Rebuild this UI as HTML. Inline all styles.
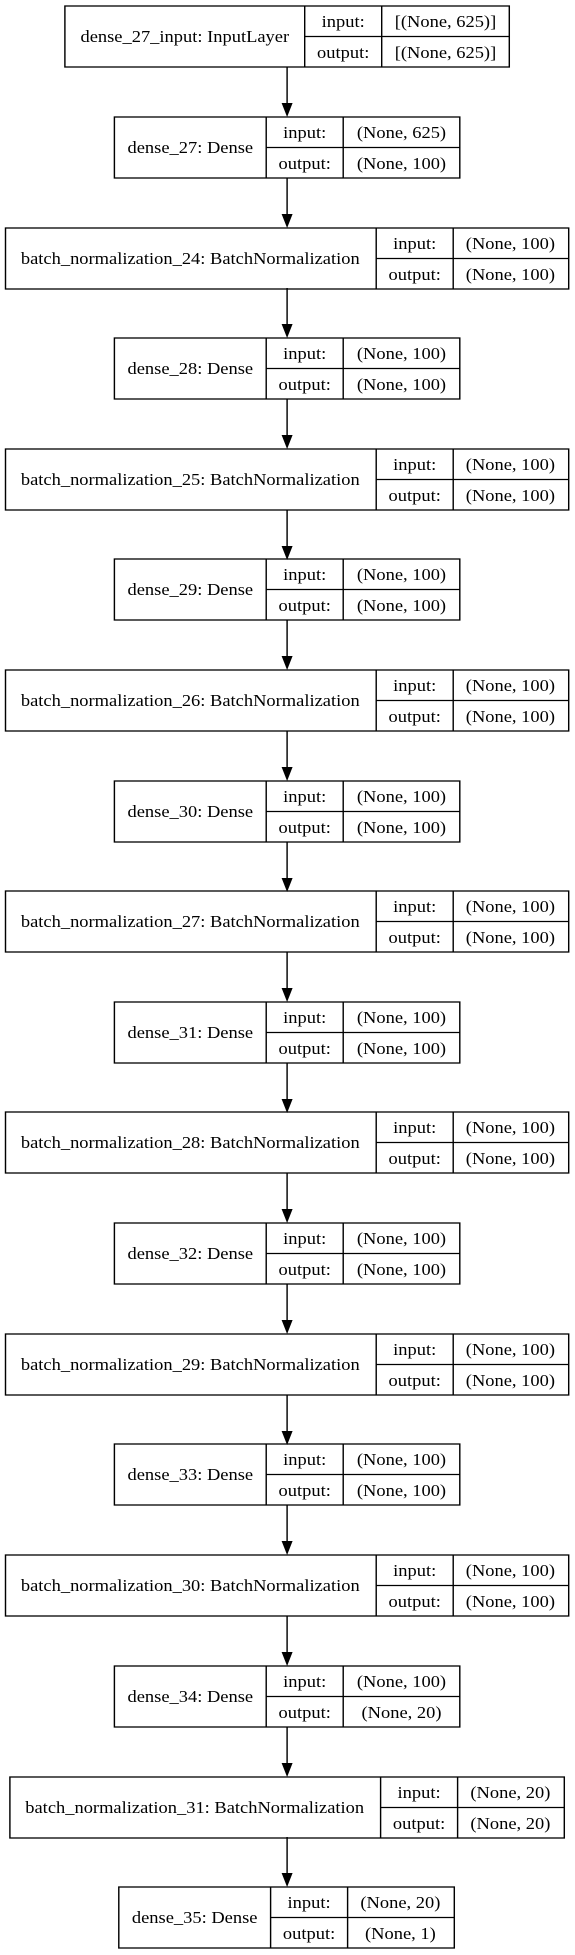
<!DOCTYPE html>
<html><head><meta charset="utf-8"><style>
html,body{margin:0;padding:0;background:#fff}
svg{display:block}
text{font-family:"Liberation Serif",serif;font-size:16.8px;fill:#000}
rect,line.b{fill:none;stroke:#000;stroke-width:1.3}
</style></head><body>
<svg width="575" height="1955" viewBox="0 0 575 1955" xmlns="http://www.w3.org/2000/svg">
<defs>
<g id="ar"><line x1="261" y1="0" x2="261" y2="36" stroke="#000" stroke-width="1.3"/><polygon points="256,36 266,36 261,50" fill="#000"/></g>
</defs>
<g transform="scale(1.1,1)">
<use href="#ar" x="0" y="67"/>
<use href="#ar" x="0" y="178"/>
<use href="#ar" x="0" y="288"/>
<use href="#ar" x="0" y="399"/>
<use href="#ar" x="0" y="510"/>
<use href="#ar" x="0" y="620"/>
<use href="#ar" x="0" y="731"/>
<use href="#ar" x="0" y="842"/>
<use href="#ar" x="0" y="952"/>
<use href="#ar" x="0" y="1063"/>
<use href="#ar" x="0" y="1173"/>
<use href="#ar" x="0" y="1284"/>
<use href="#ar" x="0" y="1395"/>
<use href="#ar" x="0" y="1505"/>
<use href="#ar" x="0" y="1616"/>
<use href="#ar" x="0" y="1727"/>
<use href="#ar" x="0" y="1837"/>

<g transform="translate(0,6)">
<rect x="59" y="0" width="404" height="61"/><line class="b" x1="277" y1="0" x2="277" y2="61"/><line class="b" x1="347" y1="0" x2="347" y2="61"/><line class="b" x1="277" y1="30.5" x2="463" y2="30.5"/>
<text x="168" y="36" text-anchor="middle">dense_27_input: InputLayer</text>
<text x="312" y="21" text-anchor="middle">input:</text><text x="312" y="52" text-anchor="middle">output:</text>
<text x="405" y="21" text-anchor="middle">[(None, 625)]</text><text x="405" y="52" text-anchor="middle">[(None, 625)]</text>
</g>

<g transform="translate(0,117)">
<rect x="104" y="0" width="314" height="61"/><line class="b" x1="242" y1="0" x2="242" y2="61"/><line class="b" x1="312" y1="0" x2="312" y2="61"/><line class="b" x1="242" y1="30.5" x2="418" y2="30.5"/>
<text x="173" y="36" text-anchor="middle">dense_27: Dense</text>
<text x="277" y="21" text-anchor="middle">input:</text><text x="277" y="52" text-anchor="middle">output:</text>
<text x="365" y="21" text-anchor="middle">(None, 625)</text><text x="365" y="52" text-anchor="middle">(None, 100)</text>
</g>

<g transform="translate(0,228)">
<rect x="5" y="0" width="512" height="61"/><line class="b" x1="342" y1="0" x2="342" y2="61"/><line class="b" x1="412" y1="0" x2="412" y2="61"/><line class="b" x1="342" y1="30.5" x2="517" y2="30.5"/>
<text x="173" y="36" text-anchor="middle">batch_normalization_24: BatchNormalization</text>
<text x="377" y="21" text-anchor="middle">input:</text><text x="377" y="52" text-anchor="middle">output:</text>
<text x="464" y="21" text-anchor="middle">(None, 100)</text><text x="464" y="52" text-anchor="middle">(None, 100)</text>
</g>

<g transform="translate(0,338)">
<rect x="104" y="0" width="314" height="61"/><line class="b" x1="242" y1="0" x2="242" y2="61"/><line class="b" x1="312" y1="0" x2="312" y2="61"/><line class="b" x1="242" y1="30.5" x2="418" y2="30.5"/>
<text x="173" y="36" text-anchor="middle">dense_28: Dense</text>
<text x="277" y="21" text-anchor="middle">input:</text><text x="277" y="52" text-anchor="middle">output:</text>
<text x="365" y="21" text-anchor="middle">(None, 100)</text><text x="365" y="52" text-anchor="middle">(None, 100)</text>
</g>

<g transform="translate(0,449)">
<rect x="5" y="0" width="512" height="61"/><line class="b" x1="342" y1="0" x2="342" y2="61"/><line class="b" x1="412" y1="0" x2="412" y2="61"/><line class="b" x1="342" y1="30.5" x2="517" y2="30.5"/>
<text x="173" y="36" text-anchor="middle">batch_normalization_25: BatchNormalization</text>
<text x="377" y="21" text-anchor="middle">input:</text><text x="377" y="52" text-anchor="middle">output:</text>
<text x="464" y="21" text-anchor="middle">(None, 100)</text><text x="464" y="52" text-anchor="middle">(None, 100)</text>
</g>

<g transform="translate(0,559)">
<rect x="104" y="0" width="314" height="61"/><line class="b" x1="242" y1="0" x2="242" y2="61"/><line class="b" x1="312" y1="0" x2="312" y2="61"/><line class="b" x1="242" y1="30.5" x2="418" y2="30.5"/>
<text x="173" y="36" text-anchor="middle">dense_29: Dense</text>
<text x="277" y="21" text-anchor="middle">input:</text><text x="277" y="52" text-anchor="middle">output:</text>
<text x="365" y="21" text-anchor="middle">(None, 100)</text><text x="365" y="52" text-anchor="middle">(None, 100)</text>
</g>

<g transform="translate(0,670)">
<rect x="5" y="0" width="512" height="61"/><line class="b" x1="342" y1="0" x2="342" y2="61"/><line class="b" x1="412" y1="0" x2="412" y2="61"/><line class="b" x1="342" y1="30.5" x2="517" y2="30.5"/>
<text x="173" y="36" text-anchor="middle">batch_normalization_26: BatchNormalization</text>
<text x="377" y="21" text-anchor="middle">input:</text><text x="377" y="52" text-anchor="middle">output:</text>
<text x="464" y="21" text-anchor="middle">(None, 100)</text><text x="464" y="52" text-anchor="middle">(None, 100)</text>
</g>

<g transform="translate(0,781)">
<rect x="104" y="0" width="314" height="61"/><line class="b" x1="242" y1="0" x2="242" y2="61"/><line class="b" x1="312" y1="0" x2="312" y2="61"/><line class="b" x1="242" y1="30.5" x2="418" y2="30.5"/>
<text x="173" y="36" text-anchor="middle">dense_30: Dense</text>
<text x="277" y="21" text-anchor="middle">input:</text><text x="277" y="52" text-anchor="middle">output:</text>
<text x="365" y="21" text-anchor="middle">(None, 100)</text><text x="365" y="52" text-anchor="middle">(None, 100)</text>
</g>

<g transform="translate(0,891)">
<rect x="5" y="0" width="512" height="61"/><line class="b" x1="342" y1="0" x2="342" y2="61"/><line class="b" x1="412" y1="0" x2="412" y2="61"/><line class="b" x1="342" y1="30.5" x2="517" y2="30.5"/>
<text x="173" y="36" text-anchor="middle">batch_normalization_27: BatchNormalization</text>
<text x="377" y="21" text-anchor="middle">input:</text><text x="377" y="52" text-anchor="middle">output:</text>
<text x="464" y="21" text-anchor="middle">(None, 100)</text><text x="464" y="52" text-anchor="middle">(None, 100)</text>
</g>

<g transform="translate(0,1002)">
<rect x="104" y="0" width="314" height="61"/><line class="b" x1="242" y1="0" x2="242" y2="61"/><line class="b" x1="312" y1="0" x2="312" y2="61"/><line class="b" x1="242" y1="30.5" x2="418" y2="30.5"/>
<text x="173" y="36" text-anchor="middle">dense_31: Dense</text>
<text x="277" y="21" text-anchor="middle">input:</text><text x="277" y="52" text-anchor="middle">output:</text>
<text x="365" y="21" text-anchor="middle">(None, 100)</text><text x="365" y="52" text-anchor="middle">(None, 100)</text>
</g>

<g transform="translate(0,1112)">
<rect x="5" y="0" width="512" height="61"/><line class="b" x1="342" y1="0" x2="342" y2="61"/><line class="b" x1="412" y1="0" x2="412" y2="61"/><line class="b" x1="342" y1="30.5" x2="517" y2="30.5"/>
<text x="173" y="36" text-anchor="middle">batch_normalization_28: BatchNormalization</text>
<text x="377" y="21" text-anchor="middle">input:</text><text x="377" y="52" text-anchor="middle">output:</text>
<text x="464" y="21" text-anchor="middle">(None, 100)</text><text x="464" y="52" text-anchor="middle">(None, 100)</text>
</g>

<g transform="translate(0,1223)">
<rect x="104" y="0" width="314" height="61"/><line class="b" x1="242" y1="0" x2="242" y2="61"/><line class="b" x1="312" y1="0" x2="312" y2="61"/><line class="b" x1="242" y1="30.5" x2="418" y2="30.5"/>
<text x="173" y="36" text-anchor="middle">dense_32: Dense</text>
<text x="277" y="21" text-anchor="middle">input:</text><text x="277" y="52" text-anchor="middle">output:</text>
<text x="365" y="21" text-anchor="middle">(None, 100)</text><text x="365" y="52" text-anchor="middle">(None, 100)</text>
</g>

<g transform="translate(0,1334)">
<rect x="5" y="0" width="512" height="61"/><line class="b" x1="342" y1="0" x2="342" y2="61"/><line class="b" x1="412" y1="0" x2="412" y2="61"/><line class="b" x1="342" y1="30.5" x2="517" y2="30.5"/>
<text x="173" y="36" text-anchor="middle">batch_normalization_29: BatchNormalization</text>
<text x="377" y="21" text-anchor="middle">input:</text><text x="377" y="52" text-anchor="middle">output:</text>
<text x="464" y="21" text-anchor="middle">(None, 100)</text><text x="464" y="52" text-anchor="middle">(None, 100)</text>
</g>

<g transform="translate(0,1444)">
<rect x="104" y="0" width="314" height="61"/><line class="b" x1="242" y1="0" x2="242" y2="61"/><line class="b" x1="312" y1="0" x2="312" y2="61"/><line class="b" x1="242" y1="30.5" x2="418" y2="30.5"/>
<text x="173" y="36" text-anchor="middle">dense_33: Dense</text>
<text x="277" y="21" text-anchor="middle">input:</text><text x="277" y="52" text-anchor="middle">output:</text>
<text x="365" y="21" text-anchor="middle">(None, 100)</text><text x="365" y="52" text-anchor="middle">(None, 100)</text>
</g>

<g transform="translate(0,1555)">
<rect x="5" y="0" width="512" height="61"/><line class="b" x1="342" y1="0" x2="342" y2="61"/><line class="b" x1="412" y1="0" x2="412" y2="61"/><line class="b" x1="342" y1="30.5" x2="517" y2="30.5"/>
<text x="173" y="36" text-anchor="middle">batch_normalization_30: BatchNormalization</text>
<text x="377" y="21" text-anchor="middle">input:</text><text x="377" y="52" text-anchor="middle">output:</text>
<text x="464" y="21" text-anchor="middle">(None, 100)</text><text x="464" y="52" text-anchor="middle">(None, 100)</text>
</g>

<g transform="translate(0,1666)">
<rect x="104" y="0" width="314" height="61"/><line class="b" x1="242" y1="0" x2="242" y2="61"/><line class="b" x1="312" y1="0" x2="312" y2="61"/><line class="b" x1="242" y1="30.5" x2="418" y2="30.5"/>
<text x="173" y="36" text-anchor="middle">dense_34: Dense</text>
<text x="277" y="21" text-anchor="middle">input:</text><text x="277" y="52" text-anchor="middle">output:</text>
<text x="365" y="21" text-anchor="middle">(None, 100)</text><text x="365" y="52" text-anchor="middle">(None, 20)</text>
</g>

<g transform="translate(0,1777)">
<rect x="9" y="0" width="504" height="61"/><line class="b" x1="346" y1="0" x2="346" y2="61"/><line class="b" x1="416" y1="0" x2="416" y2="61"/><line class="b" x1="346" y1="30.5" x2="513" y2="30.5"/>
<text x="177" y="36" text-anchor="middle">batch_normalization_31: BatchNormalization</text>
<text x="381" y="21" text-anchor="middle">input:</text><text x="381" y="52" text-anchor="middle">output:</text>
<text x="464" y="21" text-anchor="middle">(None, 20)</text><text x="464" y="52" text-anchor="middle">(None, 20)</text>
</g>

<g transform="translate(0,1887)">
<rect x="108" y="0" width="305" height="61"/><line class="b" x1="246" y1="0" x2="246" y2="61"/><line class="b" x1="316" y1="0" x2="316" y2="61"/><line class="b" x1="246" y1="30.5" x2="413" y2="30.5"/>
<text x="177" y="36" text-anchor="middle">dense_35: Dense</text>
<text x="281" y="21" text-anchor="middle">input:</text><text x="281" y="52" text-anchor="middle">output:</text>
<text x="364" y="21" text-anchor="middle">(None, 20)</text><text x="364" y="52" text-anchor="middle">(None, 1)</text>
</g>
</g>
</svg>
</body></html>
